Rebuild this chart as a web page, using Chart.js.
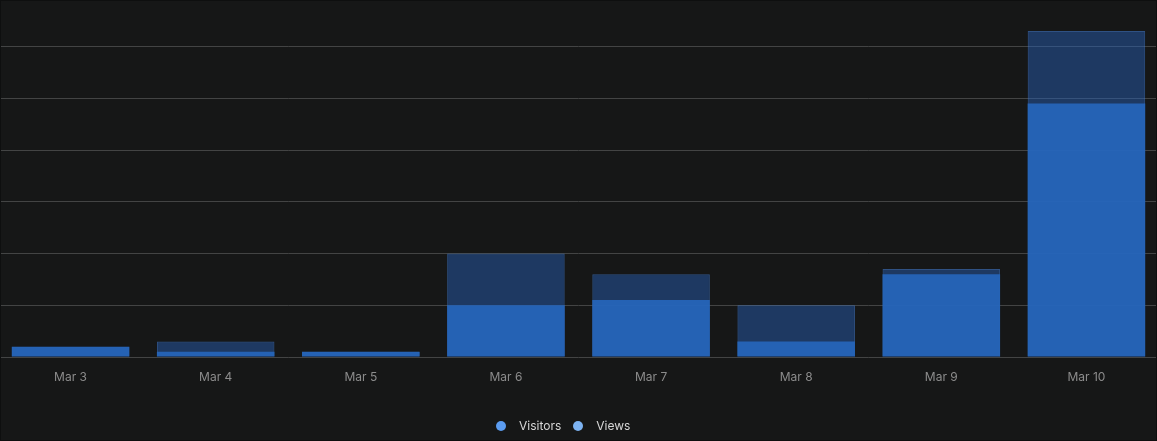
<!DOCTYPE html>
<html>
<head>
<meta charset="utf-8">
<script src="https://cdn.jsdelivr.net/npm/chart.js@4.4.1/dist/chart.umd.min.js"></script>
<style>
    html, body { margin: 0; padding: 0; background: #161717; }
    .wrap { position: relative; width: 1157px; height: 441px; overflow: hidden; font-family: Inter, "Noto Sans", sans-serif; }
    .wrap canvas { position: absolute; left: -2px; top: 0; }
    .frame { position: absolute; inset: 0; border: 1px solid #0e0f0f; pointer-events: none; }
    .legend { position: absolute; left: 496px; top: 418px; display: flex; align-items: center; font-size: 12px; color: #d6d6d6; line-height: 16px; }
    .legend span.dot { display: inline-block; width: 10px; height: 10px; border-radius: 50%; margin-right: 13px; }
    .legend span.item { display: flex; align-items: center; margin-right: 12px; }
</style>
</head>
<body>
<div class="wrap">
    <canvas id="chart" width="1161" height="442"></canvas>
    <div class="legend" id="legend"></div>
    <div class="frame"></div>
</div>
<script>
// Data
const labels = ['Mar 3', 'Mar 4', 'Mar 5', 'Mar 6', 'Mar 7', 'Mar 8', 'Mar 9', 'Mar 10'];
const visitors = [2, 1, 1, 10, 11, 3, 16, 49];
const views = [2, 3, 1, 20, 16, 10, 17, 63];

// Colors
const COLORS = {
    visitors: 'rgba(38, 101, 184, 0.96)',
    views: 'rgba(40, 100, 190, 0.45)',
    viewsBorder: 'rgba(70, 130, 220, 0.55)',
    legendVisitors: '#5b9cf0',
    legendViews: '#7db3f2',
    grid: '#434444',
    tick: '#8c8c8c'
};

Chart.defaults.font.family = 'Inter, "Noto Sans", sans-serif';

const ctx = document.getElementById('chart').getContext('2d');

const chart = new Chart(ctx, {
    type: 'bar',
    data: {
        labels: labels,
        datasets: [
            {
                label: 'Visitors',
                data: visitors,
                backgroundColor: COLORS.visitors,
                borderWidth: 0,
                order: 1
            },
            {
                label: 'Views',
                data: views,
                backgroundColor: COLORS.views,
                borderColor: COLORS.viewsBorder,
                borderWidth: 1,
                order: 2
            }
        ]
    },
    options: {
        responsive: false,
        animation: false,
        grouped: false,
        categoryPercentage: 0.9,
        barPercentage: 0.9,
        layout: { padding: 0 },
        scales: {
            x: {
                grid: { display: false },
                border: { display: false },
                ticks: { color: COLORS.tick, font: { size: 12 }, padding: 5 },
                afterFit: (scale) => { scale.height = 85; }
            },
            y: {
                min: 0,
                max: 69,
                ticks: { display: false, stepSize: 10 },
                border: { display: false },
                grid: {
                    drawTicks: false,
                    color: (c) => (c.tick && c.tick.value % 10 === 0) ? COLORS.grid : 'transparent'
                }
            }
        },
        plugins: {
            tooltip: { enabled: false },
            legend: { display: false }
        }
    }
});

// HTML legend
const legendColors = [COLORS.legendVisitors, COLORS.legendViews];
const legendEl = document.getElementById('legend');
chart.data.datasets.forEach((ds, i) => {
    const item = document.createElement('span');
    item.className = 'item';
    item.innerHTML = `<span class="dot" style="background:${legendColors[i]}"></span>${ds.label}`;
    legendEl.appendChild(item);
});
</script>
</body>
</html>
